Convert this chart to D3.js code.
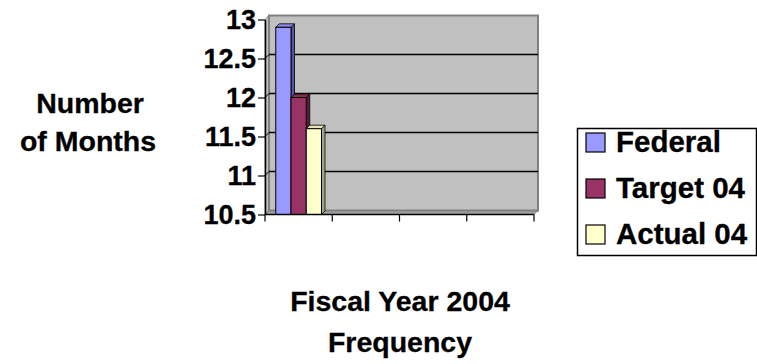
<!DOCTYPE html>
<html>
<head>
<meta charset="utf-8">
<script src="https://cdn.jsdelivr.net/npm/d3@7"></script>
<style>
  html, body { margin: 0; padding: 0; background: #ffffff; }
  svg { display: block; }
  text { font-family: "Liberation Sans", Arial, sans-serif; font-weight: bold; fill: #000; stroke: #000; stroke-width: 0.3px; }
</style>
</head>
<body>
<svg id="chart" width="757" height="364"></svg>
<script>
// Category slots along the horizontal axis (only the first one carries data)
const categories = ["FY2004", "slot2", "slot3", "slot4"];
const seriesNames = ["Federal", "Target 04", "Actual 04"];
const federal = [12.9, null, null, null];
const target04 = [12.0, null, null, null];
const actual04 = [11.6, null, null, null];
const yTicks = [10.5, 11, 11.5, 12, 12.5, 13];
const yTickLabels = ["10.5", "11", "11.5", "12", "12.5", "13"];

const seriesValues = [federal, target04, actual04];
const fills = ["#9999ff", "#993366", "#ffffcc"];
const sides = ["#55559a", "#551c38", "#a3a386"];
const tops = ["#8a8ae6", "#84304f", "#e6e6b8"];

const svg = d3.select("#chart");

// Front plane of the 3D plot
const plotLeft = 265, plotRight = 534, plotBottom = 214.5, plotTop = 19.5;
const wallDx = 4, wallDy = -4;   // depth offset to the back wall
const barDx = 3.5, barDy = -3.5; // depth of each column

const y = d3.scaleLinear().domain([10.5, 13]).range([plotBottom, plotTop]);
const x = d3.scaleBand().domain(categories).range([plotLeft, plotRight])
  .paddingInner(0.32).paddingOuter(0.16);
const xs = d3.scaleBand().domain(seriesNames).range([0, x.bandwidth()]);

const g = svg.append("g");

// Left side wall
g.append("polygon")
  .attr("points", [[plotLeft, y(13)], [plotLeft + wallDx, y(13) + wallDy], [plotLeft + wallDx, plotBottom + wallDy], [plotLeft, plotBottom]].join(" "))
  .attr("fill", "#c0c0c0").attr("stroke", "#808080").attr("stroke-width", 1);

// Floor
g.append("polygon")
  .attr("points", [[plotLeft, plotBottom], [plotLeft + wallDx, plotBottom + wallDy], [plotRight + wallDx, plotBottom + wallDy], [plotRight, plotBottom]].join(" "))
  .attr("fill", "#a0a0a0").attr("stroke", "#808080").attr("stroke-width", 1);

// Back wall
g.append("rect")
  .attr("x", plotLeft + wallDx).attr("y", y(13) + wallDy)
  .attr("width", plotRight - plotLeft).attr("height", plotBottom - y(13))
  .attr("fill", "#c0c0c0").attr("stroke", "#808080").attr("stroke-width", 2);

// Gridlines on the back wall and on the side wall
const gridVals = yTicks.filter(v => v > 10.5 && v < 13);
g.selectAll("line.grid").data(gridVals).join("line")
  .attr("class", "grid")
  .attr("x1", plotLeft + wallDx).attr("x2", plotRight + wallDx)
  .attr("y1", d => y(d) + wallDy).attr("y2", d => y(d) + wallDy)
  .attr("stroke", "#000").attr("stroke-width", 1.5);
g.selectAll("line.sidegrid").data(gridVals).join("line")
  .attr("class", "sidegrid")
  .attr("x1", plotLeft).attr("x2", plotLeft + wallDx)
  .attr("y1", d => y(d)).attr("y2", d => y(d) + wallDy)
  .attr("stroke", "#000").attr("stroke-width", 1);

// 3D columns
const bars = g.append("g");
categories.forEach((cat, ci) => {
  seriesNames.forEach((s, si) => {
    const v = seriesValues[si][ci];
    if (v == null) return;
    const x0 = x(cat) + xs(s), w = xs.bandwidth();
    const yt = y(v), yb = y(10.5);
    bars.append("polygon")
      .attr("points", [[x0 + w, yt], [x0 + w + barDx, yt + barDy], [x0 + w + barDx, yb + barDy], [x0 + w, yb]].join(" "))
      .attr("fill", sides[si]).attr("stroke", "#000").attr("stroke-width", 0.8);
    bars.append("polygon")
      .attr("points", [[x0, yt], [x0 + barDx, yt + barDy], [x0 + w + barDx, yt + barDy], [x0 + w, yt]].join(" "))
      .attr("fill", tops[si]).attr("stroke", "#000").attr("stroke-width", 0.8);
    bars.append("rect")
      .attr("x", x0).attr("y", yt).attr("width", w).attr("height", yb - yt)
      .attr("fill", fills[si]).attr("stroke", "#000").attr("stroke-width", 1);
  });
});

// Value axis
const yAxis = d3.axisLeft(y).tickValues(yTicks)
  .tickFormat((d, i) => yTickLabels[i]).tickSizeInner(7).tickSizeOuter(0).tickPadding(2);
const ya = svg.append("g").attr("transform", `translate(${plotLeft},0)`).call(yAxis);
ya.select(".domain").attr("stroke", "#000").attr("stroke-width", 1.5);
ya.selectAll(".tick line").attr("stroke", "#000").attr("stroke-width", 1.2);
ya.selectAll(".tick text")
  .attr("font-size", "27px").attr("font-family", "Liberation Sans, Arial, sans-serif")
  .attr("font-weight", "bold").attr("fill", "#000").attr("dy", "0.34em");

// Category axis: line with tick marks at slot boundaries
const boundaries = categories.map(c => x(c) - x.step() * x.paddingInner() / 2);
boundaries[0] = plotLeft;
boundaries.push(plotRight);
svg.append("line").attr("x1", plotLeft).attr("x2", plotRight).attr("y1", plotBottom).attr("y2", plotBottom)
  .attr("stroke", "#000").attr("stroke-width", 1.5);
svg.selectAll("line.xtick").data(boundaries).join("line")
  .attr("class", "xtick")
  .attr("x1", d => d).attr("x2", d => d).attr("y1", plotBottom).attr("y2", plotBottom + 7)
  .attr("stroke", "#000").attr("stroke-width", 1.2);

// Axis titles
const yTitle = svg.append("text").attr("text-anchor", "middle").attr("font-size", "28.5px");
yTitle.append("tspan").attr("x", 90).attr("y", 113).text("Number");
yTitle.append("tspan").attr("x", 88).attr("y", 151).text("of Months");

const xTitle = svg.append("text").attr("text-anchor", "middle").attr("font-size", "28.5px");
xTitle.append("tspan").attr("x", 400).attr("y", 311).text("Fiscal Year 2004");
xTitle.append("tspan").attr("x", 400).attr("y", 352).text("Frequency");

// Legend
const legend = svg.append("g").attr("transform", "translate(577,128)");
legend.append("rect").attr("x", 0.5).attr("y", 0.5).attr("width", 179).attr("height", 127)
  .attr("fill", "#fff").attr("stroke", "#000").attr("stroke-width", 1.5);
const rowY = [14, 60, 106];
const items = legend.selectAll("g.item").data(seriesNames).join("g")
  .attr("class", "item")
  .attr("transform", (d, i) => `translate(0,${rowY[i]})`);
items.append("rect").attr("x", 9).attr("y", -9).attr("width", 19).attr("height", 19)
  .attr("fill", (d, i) => fills[i]).attr("stroke", "#000").attr("stroke-width", 1.2);
items.append("text").attr("x", 39).attr("y", 10).attr("font-size", "29.5px").text(d => d);
</script>
</body>
</html>
